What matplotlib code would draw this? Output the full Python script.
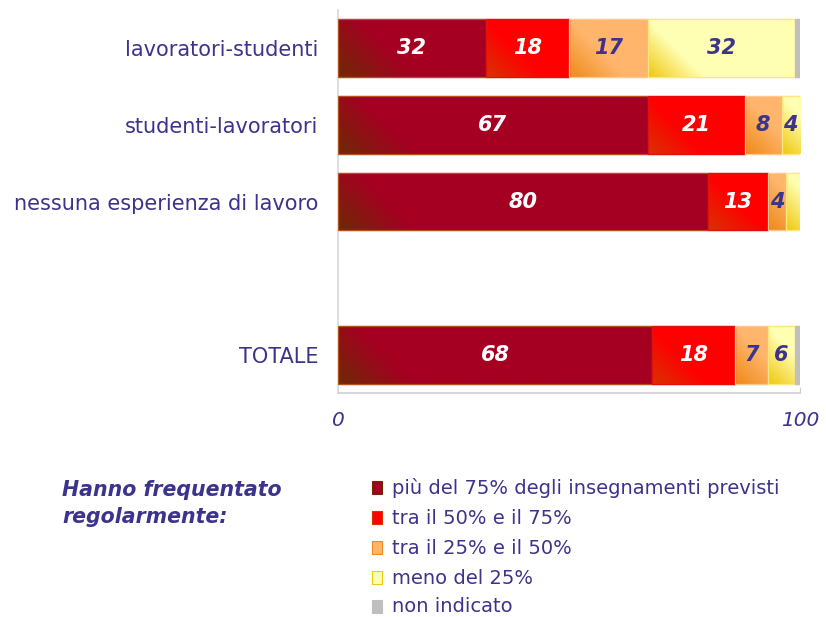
import numpy as np
import matplotlib
matplotlib.use("Agg")
import matplotlib.pyplot as plt
from matplotlib.patches import Rectangle
from matplotlib.colors import to_rgb

categories = ["lavoratori-studenti", "studenti-lavoratori",
              "nessuna esperienza di lavoro", "TOTALE"]
positions = [0, 1, 2, 4]
series_names = ["più del 75% degli insegnamenti previsti",
                "tra il 50% e il 75%",
                "tra il 25% e il 50%",
                "meno del 25%",
                "non indicato"]
values = {
    "più del 75% degli insegnamenti previsti": [32, 67, 80, 68],
    "tra il 50% e il 75%": [18, 21, 13, 18],
    "tra il 25% e il 50%": [17, 8, 4, 7],
    "meno del 25%": [32, 4, 3, 6],
    "non indicato": [1, 0, 0, 1],
}
legend_title = ["Hanno frequentato", "regolarmente:"]
xticks = [0, 100]

light = ["#A50021", "#FF0000", "#FFB56B", "#FFFFB4", "#BFBFBF"]
dark = ["#6E2A05", "#D83200", "#EE8A1A", "#F0C810", "#BFBFBF"]
edges = ["#B4501E", "#E01010", "#FFC890", "#FFE680", "#BFBFBF"]
label_colors = ["white", "white", "#3C348C", "#3C348C", "#3C348C"]
txt_color = "#3C348C"

W, H = 826, 617
fig = plt.figure(figsize=(W / 100, H / 100), dpi=100)
ax_left, ax_right = 338 / W, 800 / W
ax_bottom, ax_top = (H - 393) / H, (H - 10) / H
ax = fig.add_axes([ax_left, ax_bottom, ax_right - ax_left, ax_top - ax_bottom])
ylim = (4.494, -0.494)
ax.set_xlim(0, 100)
ax.set_ylim(*ylim)

bar_h = 0.75
px_per_x = (800 - 338) / 100
px_per_y = 77.0

def gradient_img(width_px, height_px, c0, c1, L):
    nx = max(int(width_px), 2)
    ny = max(int(height_px), 2)
    xs = np.linspace(0, width_px, nx)
    ys = np.linspace(height_px, 0, ny)
    X, Y = np.meshgrid(xs, ys)
    d = (X + Y) / np.sqrt(2)
    t = np.clip(d / L, 0, 1)[..., None]
    a = np.array(to_rgb(c0))
    b = np.array(to_rgb(c1))
    return a * (1 - t) + b * t

left = np.zeros(len(categories))
for si, name in enumerate(series_names):
    vals = np.array(values[name], dtype=float)
    bars = ax.barh(positions, vals, left=left, height=bar_h,
                   color=light[si], edgecolor=edges[si], linewidth=0.9, zorder=2)
    for bi, (rect, v) in enumerate(zip(bars, vals)):
        if v <= 0:
            continue
        x0 = rect.get_x()
        x1 = x0 + rect.get_width()
        yc = positions[bi]
        wpx = rect.get_width() * px_per_x
        hpx = bar_h * px_per_y
        if si < 4:
            img = gradient_img(wpx, hpx, dark[si], light[si], 55 if si == 0 else 40)
            im = ax.imshow(img, extent=(x0, x1, yc + bar_h / 2, yc - bar_h / 2),
                           origin="upper", aspect="auto", zorder=2.5,
                           interpolation="bilinear")
            im.set_clip_path(rect)
        ax.add_patch(Rectangle((x0, yc - bar_h / 2), rect.get_width(), bar_h,
                               fill=False, edgecolor=edges[si], linewidth=0.9,
                               zorder=3))
        if v >= 4 and si < 4:
            ax.text(x0 + v / 2, yc, f"{int(v)}", ha="center", va="center",
                    color=label_colors[si], fontsize=15, fontweight="bold",
                    fontstyle="italic", zorder=4, clip_on=False)
    left += vals

ax.set_xlim(0, 100)
ax.set_ylim(*ylim)

ax.set_yticks(positions)
ax.set_yticklabels(categories, fontsize=15, color=txt_color)
ax.tick_params(axis="y", length=0, pad=14)
ax.set_xticks(xticks)
ax.set_xticklabels([str(t) for t in xticks], fontsize=14.5, color=txt_color,
                   fontstyle="italic")
ax.tick_params(axis="x", direction="in", length=4, color="#D0D0D0", pad=13)
for s in ["top", "right"]:
    ax.spines[s].set_visible(False)
ax.spines["left"].set_color("#D9D9D9")
ax.spines["bottom"].set_color("#D0D0D0")
ax.spines["left"].set_linewidth(1.2)
ax.spines["bottom"].set_linewidth(1.2)

# legend title
for li, (line, y) in enumerate(zip(legend_title, [490, 517])):
    fig.text(62 / W, 1 - y / H, line, ha="left", va="center",
             fontsize=14.8, fontweight="bold", fontstyle="italic", color=txt_color)

leg_y = [488, 518, 548, 578, 607]
for si, name in enumerate(series_names):
    y = leg_y[si]
    fig.patches.append(Rectangle((372 / W, 1 - (y + 6) / H), 10 / W, 13 / H,
                                 transform=fig.transFigure, facecolor=light[si],
                                 edgecolor=dark[si], linewidth=0.8))
    fig.text(392 / W, 1 - y / H, name, ha="left", va="center", fontsize=14,
             color=txt_color)

fig.savefig("out.png", dpi=100)
